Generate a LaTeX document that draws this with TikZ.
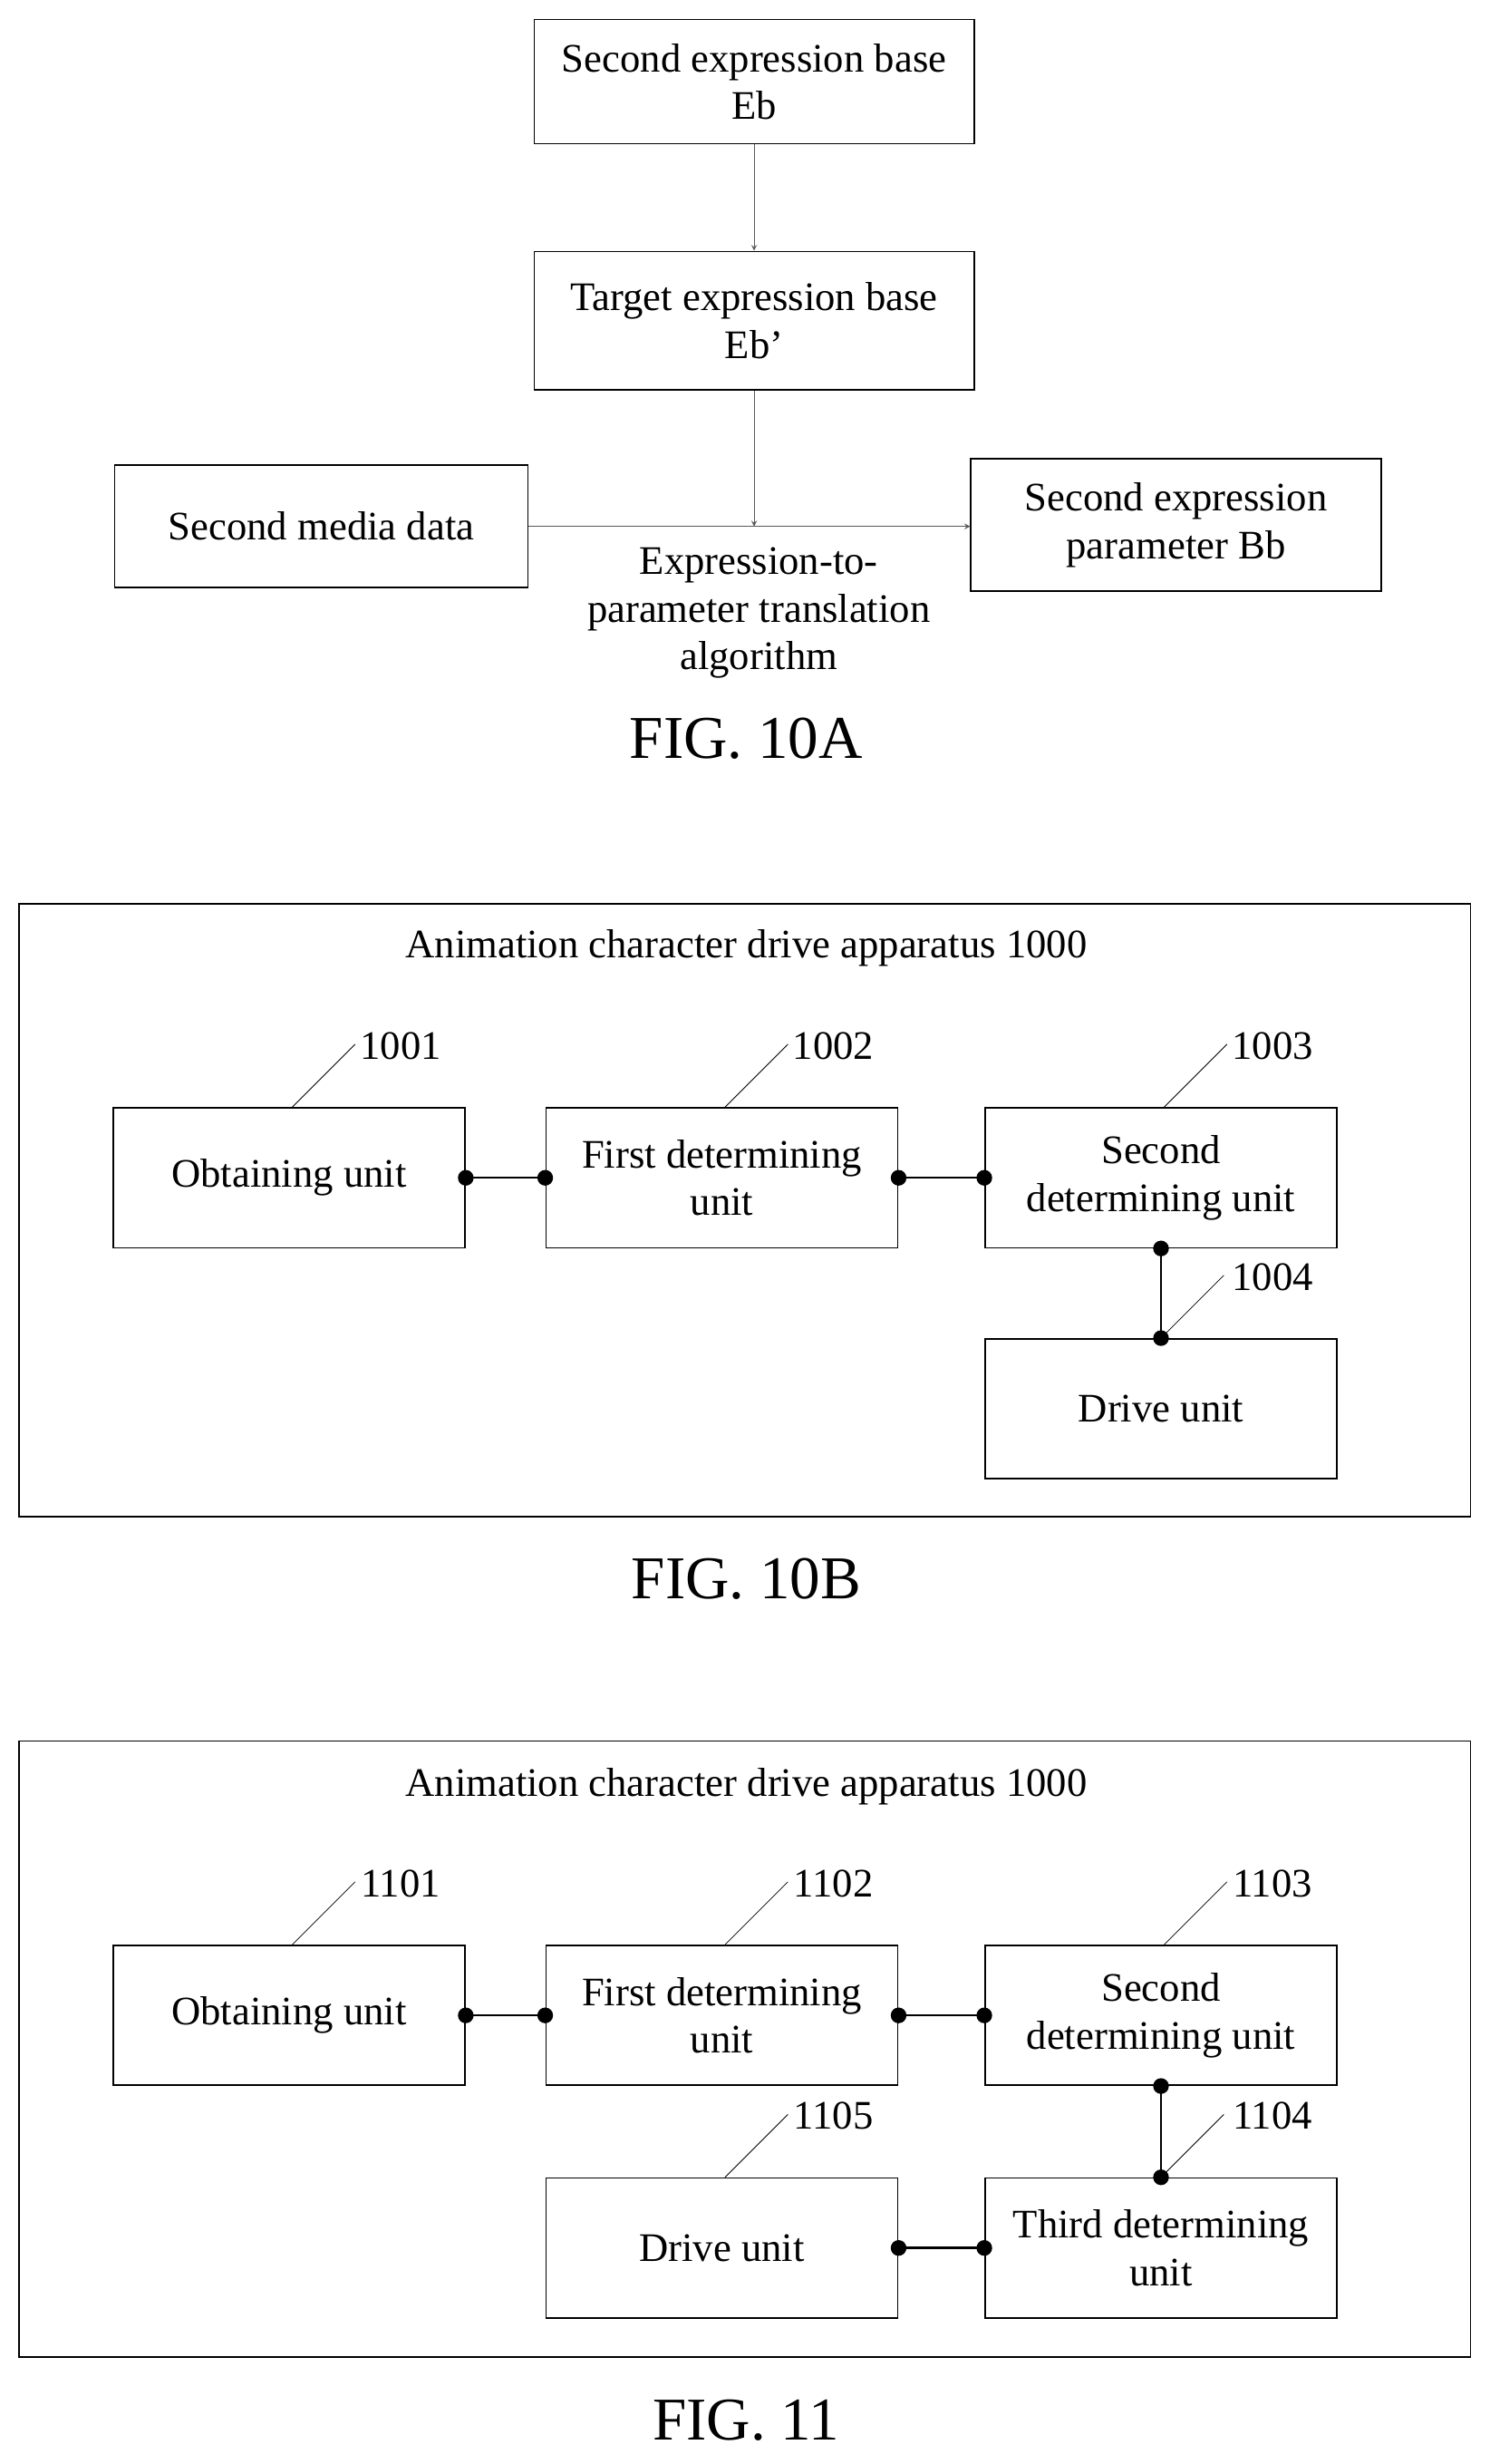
\documentclass[tikz,border=0pt]{standalone}
\usepackage{fontspec}
\setmainfont{Liberation Serif}
\begin{document}
\begin{tikzpicture}[x=0.03cm,y=-0.03cm,
  box/.style={draw,thick,align=center,font=\fontsize{22}{26}\selectfont},
  lbl/.style={font=\fontsize{22}{26}\selectfont},
  fig/.style={font=\fontsize{33}{38}\selectfont},
  flow/.style={draw=gray!70!black,->,>=stealth},
  link/.style={draw,very thick},
  dot/.style={circle,fill,inner sep=0pt,minimum size=0.3cm}]
\useasboundingbox (0,0) rectangle (948,1568);

% FIG. 10A
\node[box,minimum width=280*0.03cm,minimum height=79*0.03cm] (eb) at (480,52) {Second expression base\\Eb};
\node[box,minimum width=280*0.03cm,minimum height=88*0.03cm] (tb) at (480,204) {Target expression base\\Eb'};
\node[box,minimum width=263*0.03cm,minimum height=78*0.03cm] (md) at (204.5,335) {Second media data};
\node[box,minimum width=261*0.03cm,minimum height=84*0.03cm] (bb) at (748.5,334) {Second expression\\parameter Bb};
\coordinate (mid) at (tb.south |- md.east);
\draw[flow] (eb) -- (tb);
\draw[flow] (tb) -- (mid);
\draw[flow] (md.east) -- (bb.west |- md.east);
\node[lbl,align=center] (alg) at (483,390) {Expression-to-\\parameter translation\\algorithm};
\node[fig] (f10a) at (475,470) {FIG. 10A};

% FIG. 10B
\node[draw,thick,minimum width=924*0.03cm,minimum height=390*0.03cm] (app1) at (474,770) {};
\node[lbl] (t1) at (475,603) {Animation character drive apparatus 1000};
\foreach \n/\x/\y/\t/\num in {ob/184/749.5/Obtaining unit/1001, fd/459.5/749.5/First determining\\unit/1002, sd/739/749.5/Second\\determining unit/1003, du/739/896.5/Drive unit/1004}{
  \node[box,minimum width=224*0.03cm,minimum height=89*0.03cm] (\n) at (\x,\y) {\t};
  \node[lbl] (n\num) at (\x+71,\y-84) {\num};
}
\foreach \n in {ob,fd,sd}{
  \draw (\n.north) ++(2,0) -- ++(40,-40);
}
\draw (du.north) -- ++(40,-40);
\draw[link] (ob.east) -- (fd.west);
\draw[link] (fd.east) -- (sd.west);
\draw[link] (sd.south) -- (du.north);
\foreach \p in {ob.east,fd.west,fd.east,sd.west,sd.south,du.north}{
  \node[dot] at (\p) {};
}
\node[fig] (f10b) at (475,1005) {FIG. 10B};

% FIG. 11
\node[draw,thick,minimum width=924*0.03cm,minimum height=392*0.03cm] (app2) at (474,1304) {};
\node[lbl] (t2) at (475,1137) {Animation character drive apparatus 1000};
\foreach \n/\x/\y/\t/\num in {ob2/184/1282.5/Obtaining unit/1101, fd2/459.5/1282.5/First determining\\unit/1102, sd2/739/1282.5/Second\\determining unit/1103, td2/739/1430.5/Third determining\\unit/1104, du2/459.5/1430.5/Drive unit/1105}{
  \node[box,minimum width=224*0.03cm,minimum height=89*0.03cm] (\n) at (\x,\y) {\t};
  \node[lbl] (n\num) at (\x+71,\y-84) {\num};
}
\foreach \n in {ob2,fd2,sd2,du2}{
  \draw (\n.north) ++(2,0) -- ++(40,-40);
}
\draw (td2.north) -- ++(40,-40);
\draw[link] (ob2.east) -- (fd2.west);
\draw[link] (fd2.east) -- (sd2.west);
\draw[link] (sd2.south) -- (td2.north);
\draw[link] (td2.west) -- (du2.east);
\foreach \p in {ob2.east,fd2.west,fd2.east,sd2.west,sd2.south,td2.north,td2.west,du2.east}{
  \node[dot] at (\p) {};
}
\node[fig] (f11) at (475,1540) {FIG. 11};
\end{tikzpicture}
\end{document}
